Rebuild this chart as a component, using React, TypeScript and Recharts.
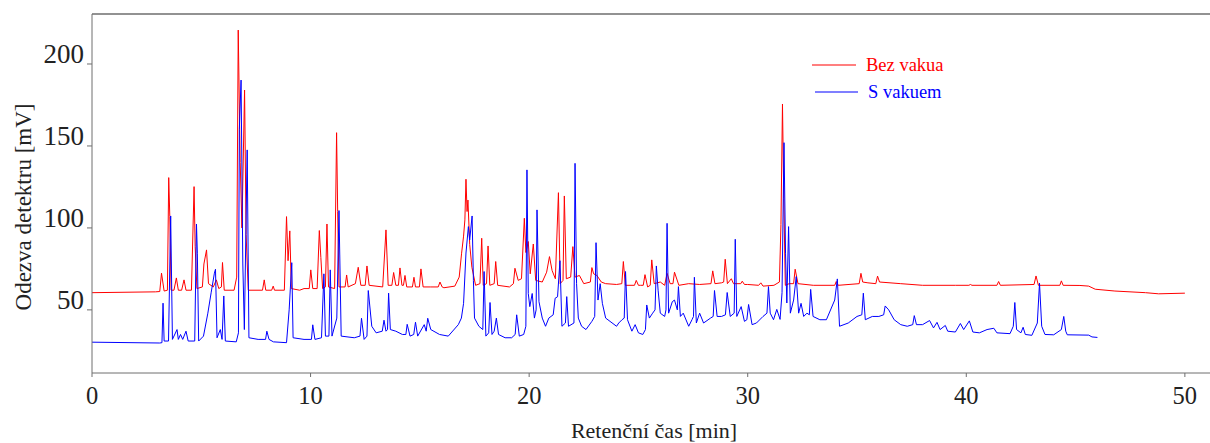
import React from "react";
import { LineChart, Line, XAxis, YAxis, ReferenceLine } from "recharts";

// Retention time [min] and detector response [mV]
const bezVakua: [number, number][] = [
  [0, 60.5], [2.9, 61.0], [3.1, 61.2], [3.18, 72.4], [3.3, 61.5], [3.45, 62], [3.51, 130.7], [3.56, 107], [3.62, 62],
  [3.75, 62], [3.86, 69.5], [3.95, 62], [4.1, 62], [4.21, 68.3], [4.3, 62], [4.55, 62], [4.67, 125.2], [4.72, 88.6],
  [4.8, 63], [5.05, 64], [5.12, 78], [5.24, 86.6], [5.33, 66], [5.55, 64], [5.69, 68.3], [5.8, 63], [5.92, 64], [5.97, 78.9],
  [6.05, 62], [6.5, 62], [6.62, 70], [6.69, 220.7], [6.78, 140], [6.86, 100], [6.98, 184.1], [7.05, 96], [7.15, 62],
  [7.8, 62], [7.88, 68.3], [7.95, 62], [8.22, 62], [8.29, 64.5], [8.35, 62], [8.8, 62], [8.9, 106.9], [8.97, 80], [9.05, 98.2],
  [9.12, 63], [9.5, 62], [9.7, 63], [9.94, 63], [10.01, 74.4], [10.1, 63], [10.3, 63], [10.4, 98.4], [10.47, 82], [10.55, 63],
  [10.68, 64], [10.75, 102.4], [10.82, 64], [11.1, 63], [11.19, 158.1], [11.24, 110], [11.3, 64], [11.58, 64], [11.65, 71.3], [11.72, 64],
  [12.05, 66], [12.18, 76], [12.3, 65], [12.5, 65], [12.58, 76.8], [12.68, 65], [13.3, 64], [13.45, 98.8], [13.55, 65],
  [13.72, 65], [13.8, 72.8], [13.9, 65], [14.02, 65], [14.09, 75.6], [14.18, 65], [14.25, 65], [14.32, 71], [14.4, 64],
  [14.66, 64], [14.73, 69.9], [14.8, 64], [14.98, 64], [15.05, 75], [15.15, 64], [15.5, 64], [15.84, 64], [15.92, 67],
  [16.02, 64], [16.1, 63.5], [16.6, 64.5], [16.8, 70], [16.91, 84.6],
  [17.0, 95], [17.06, 104.9], [17.11, 129.7], [17.16, 110], [17.2, 117], [17.28, 90], [17.38, 76], [17.55, 65],
  [17.75, 66], [17.83, 93.7], [17.9, 65], [18.05, 66], [18.12, 89], [18.2, 65], [18.4, 66], [18.47, 79.5],
  [18.56, 65], [19.1, 64], [19.28, 66], [19.35, 75.4], [19.5, 68], [19.65, 69], [19.78, 105.9], [19.85, 85], [19.96, 91.7],
  [20.05, 72], [20.19, 90.2], [20.3, 68], [20.6, 67], [20.8, 73], [20.93, 82.5], [21.05, 74], [21.2, 69],
  [21.34, 121.5], [21.42, 66], [21.55, 68], [21.61, 119.5], [21.7, 69], [21.9, 70], [22.0, 88.6], [22.1, 70], [22.3, 71],
  [22.5, 66], [22.8, 67], [22.87, 75.8], [22.95, 72], [23.1, 71], [23.3, 67], [23.5, 66], [24.0, 65.5], [24.24, 66], [24.31, 79.5],
  [24.4, 65], [24.82, 65], [24.9, 68], [25.0, 65], [25.1, 65], [25.22, 65], [25.3, 71.5], [25.42, 64], [25.54, 65], [25.61, 80.5], [25.72, 66], [26.0, 67],
  [26.2, 65], [26.31, 72.3], [26.45, 66], [26.58, 66], [26.65, 73], [26.85, 65], [27.3, 66], [27.8, 65.5], [28.32, 66], [28.4, 73.8],
  [28.5, 66], [28.8, 66.5], [28.9, 67], [28.97, 80.9], [29.07, 66], [29.25, 69], [29.35, 66], [29.68, 66], [29.75, 67.5], [29.85, 65.5], [30.0, 65.5],
  [30.5, 65], [30.6, 66.5], [30.7, 64.5], [31.2, 65], [31.45, 67], [31.52, 102], [31.59, 175.6], [31.65, 118], [31.72, 65],
  [31.9, 66], [32.1, 66], [32.17, 74.8], [32.3, 66], [33.0, 65], [33.98, 65], [34.05, 67.3], [34.14, 65], [35.1, 66], [35.18, 72.3], [35.26, 67],
  [35.5, 66.5], [35.86, 66], [35.94, 70.6], [36.03, 67], [37.0, 66], [38.0, 65], [39.5, 65], [40.12, 65], [40.19, 65.5], [40.26, 65],
  [41.4, 65], [41.48, 67.3], [41.56, 65], [43.1, 65.5], [43.19, 70.7], [43.3, 65], [44.28, 65], [44.35, 67.7], [44.43, 65],
  [45.2, 64.9], [45.6, 64.5], [45.9, 62.6], [46.8, 61.5], [48.2, 60.5], [48.8, 59.8], [50.0, 60.2],
];

const sVakuem: [number, number][] = [
  [0, 30.3], [3.1, 29.8], [3.2, 30], [3.25, 54.1], [3.3, 31], [3.5, 31], [3.6, 107.3], [3.68, 32], [3.89, 38],
  [3.95, 32], [4.05, 35], [4.15, 32], [4.3, 37], [4.4, 31], [4.7, 31], [4.78, 102.4], [4.82, 84.6], [4.88, 31],
  [5.1, 34], [5.3, 48], [5.45, 60.4], [5.6, 72.4], [5.65, 74.8], [5.72, 33], [5.87, 38], [5.95, 32], [6.03, 58.5],
  [6.1, 31], [6.6, 30.5], [6.7, 36], [6.74, 160], [6.82, 190.2], [6.9, 78], [6.97, 38], [7.1, 147.6], [7.18, 33],
  [7.6, 32], [7.94, 32], [8.0, 37], [8.1, 32], [8.3, 30.5], [8.9, 30], [9.02, 50], [9.14, 78.8], [9.2, 33], [9.7, 32],
  [10.04, 32], [10.1, 40.9], [10.2, 32], [10.5, 33], [10.61, 72], [10.68, 34], [10.84, 34], [10.9, 74.4], [10.98, 34], [11.2, 45],
  [11.3, 110.6], [11.4, 34], [12.0, 33], [12.26, 34], [12.33, 44.9], [12.45, 32], [12.58, 34], [12.64, 61.8], [12.8, 40], [13.0, 36],
  [13.28, 37], [13.36, 43.7], [13.45, 37], [13.52, 38], [13.57, 60.2], [13.65, 38], [13.9, 37], [14.2, 35], [14.36, 35], [14.42, 41.2], [14.55, 34],
  [14.72, 35], [14.8, 42.5], [14.9, 34], [15.2, 41], [15.29, 37], [15.36, 44.9], [15.5, 38], [15.9, 35], [16.3, 34],
  [16.76, 41], [16.9, 45], [17.0, 54], [17.11, 84.7], [17.22, 100.8], [17.28, 92.7], [17.39, 107.3], [17.45, 68],
  [17.5, 45], [17.7, 40], [17.88, 38], [17.94, 73.4], [18.02, 34], [18.15, 36], [18.21, 54.5], [18.3, 35], [18.4, 37],
  [18.5, 45], [18.6, 35], [18.9, 33], [19.2, 33], [19.36, 35], [19.43, 47], [19.55, 34], [19.75, 35], [19.85, 40], [19.9, 135.4],
  [19.96, 60], [20.03, 52], [20.14, 60], [20.24, 45], [20.32, 50], [20.36, 111], [20.45, 55], [20.6, 45], [20.75, 40],
  [20.9, 45], [21.1, 47], [21.19, 57.1], [21.3, 58], [21.41, 80], [21.5, 40], [21.66, 42], [21.72, 58.1], [21.8, 40],
  [22.05, 42], [22.1, 139.4], [22.17, 66], [22.25, 45], [22.4, 40], [22.6, 38], [22.87, 43], [23.0, 46], [23.06, 91], [23.15, 56],
  [23.25, 66], [23.35, 54], [23.5, 45], [23.7, 43], [24.0, 40], [24.1, 42], [24.25, 44], [24.35, 45], [24.41, 73.4],
  [24.5, 44], [24.7, 37], [24.85, 41], [25.0, 36], [25.2, 35], [25.32, 38], [25.38, 53], [25.5, 45], [25.65, 48],
  [25.76, 50], [25.82, 76.8], [25.9, 62], [26.0, 48], [26.2, 46], [26.26, 50], [26.31, 102.8], [26.38, 48], [26.55, 55], [26.65, 56],
  [26.78, 50], [26.83, 64.2], [26.92, 46], [27.05, 48], [27.3, 40], [27.45, 44], [27.52, 46], [27.56, 69.9], [27.65, 42], [27.8, 48],
  [27.98, 42], [28.3, 45], [28.42, 46], [28.48, 61.8], [28.6, 46], [28.8, 46], [28.98, 47], [29.06, 60.6], [29.2, 46], [29.38, 48], [29.43, 93.1],
  [29.5, 46], [29.7, 52], [29.85, 43], [29.96, 44], [30.04, 53.3], [30.2, 41], [30.4, 42], [30.7, 46], [30.88, 48], [30.95, 64.2],
  [31.03, 48], [31.18, 44], [31.33, 50.3], [31.48, 44.2], [31.57, 60.5], [31.66, 152], [31.73, 84.6],
  [31.79, 54.2], [31.87, 100.8], [31.95, 48], [32.1, 56], [32.22, 70.3], [32.33, 48], [32.44, 54], [32.56, 46],
  [32.71, 48], [32.82, 47], [32.88, 62.5], [32.99, 46], [33.3, 44], [33.6, 44], [33.98, 56], [34.1, 68.9], [34.2, 40],
  [34.6, 42], [35.0, 46], [35.22, 47], [35.29, 60.2], [35.38, 44], [35.7, 46], [36.0, 46], [36.22, 47], [36.29, 52.4], [36.45, 50],
  [36.7, 44], [37.0, 41], [37.3, 40], [37.55, 41], [37.62, 46.5], [37.72, 41], [38.0, 41], [38.32, 43.5], [38.5, 39],
  [38.66, 42.4], [38.8, 38], [39.04, 40.5], [39.15, 37], [39.5, 36.5], [39.73, 41.7], [39.88, 38], [40.14, 43.3],
  [40.3, 36.5], [40.6, 36], [40.95, 38], [41.26, 38.8], [41.4, 36], [42.0, 35.5], [42.15, 40], [42.22, 54.5],
  [42.3, 38], [42.5, 36], [42.6, 39.4], [42.7, 35], [43.0, 34.5], [43.25, 42], [43.35, 66.3], [43.45, 40],
  [43.6, 35], [44.0, 34.8], [44.35, 38], [44.46, 46], [44.55, 37], [44.62, 34.8], [45.6, 34.6], [45.75, 33.5],
  [46.0, 33.2],
];

const xTicks = [0, 10, 20, 30, 40, 50];
const yTicks = [50, 100, 150, 200];
const seriesNames = ["Bez vakua", "S vakuem"];
const seriesColors = ["#ff0000", "#0000ff"];
const xTitle = "Retenční čas [min]";
const yTitle = "Odezva detektru [mV]";

const redData = bezVakua.map(([t, v]) => ({ t, v }));
const blueData = sVakuem.map(([t, v]) => ({ t, v }));

const SERIF = "'Liberation Serif', 'Times New Roman', serif";
const AXIS = "#6e6e6e";

const XTick = (props: any) => {
  const { x, y, payload } = props;
  return (
    <text x={x} y={y + 25} textAnchor="middle" fontFamily={SERIF} fontSize={24.5} fill="#222">
      {payload.value}
    </text>
  );
};

const YTick = (props: any) => {
  const { x, y, payload } = props;
  return (
    <text x={x - 1} y={y - 1} textAnchor="end" fontFamily={SERIF} fontSize={27} fill="#222">
      {payload.value}
    </text>
  );
};

const XTitle = () => (
  <text x={654} y={438} textAnchor="middle" fontFamily={SERIF} fontSize={22} fill="#222">
    {xTitle}
  </text>
);

const YTitle = () => (
  <text transform="translate(31,207) rotate(-90)" textAnchor="middle" fontFamily={SERIF} fontSize={23} fill="#222">
    {yTitle}
  </text>
);

export default function App() {
  return (
    <div style={{ position: "absolute", left: 0, top: 0, width: 1210, height: 443, background: "#fff" }}>
      <LineChart width={1210} height={443} margin={{ top: 14, right: 0, bottom: 10, left: 0 }}>
        <XAxis
          dataKey="t"
          type="number"
          domain={[0, 51.15]}
          allowDataOverflow
          ticks={xTicks}
          tick={<XTick />}
          tickSize={4}
          stroke={AXIS}
          height={60}
          label={{ content: () => <XTitle /> }}
        />
        <YAxis
          type="number"
          domain={[11.5, 230.5]}
          allowDataOverflow
          ticks={yTicks}
          tick={<YTick />}
          tickSize={5}
          stroke={AXIS}
          width={92}
          label={{ content: () => <YTitle /> }}
        />
        <ReferenceLine y={230.5} stroke={AXIS} strokeWidth={1.5} />
        <Line data={redData} dataKey="v" type="linear" stroke={seriesColors[0]} strokeWidth={1} dot={false} isAnimationActive={false} name={seriesNames[0]} />
        <Line data={blueData} dataKey="v" type="linear" stroke={seriesColors[1]} strokeWidth={1} dot={false} isAnimationActive={false} name={seriesNames[1]} />
      </LineChart>
      <svg width={170} height={60} style={{ position: "absolute", left: 800, top: 52, overflow: "visible" }}>
        <line x1={12} x2={56} y1={13} y2={13} stroke={seriesColors[0]} strokeWidth={1.2} />
        <text x={66} y={19} fontFamily={SERIF} fontSize={18.5} fill={seriesColors[0]}>{seriesNames[0]}</text>
        <line x1={15} x2={58} y1={40} y2={40} stroke={seriesColors[1]} strokeWidth={1.2} />
        <text x={68} y={46} fontFamily={SERIF} fontSize={18.5} fill={seriesColors[1]}>{seriesNames[1]}</text>
      </svg>
    </div>
  );
}
